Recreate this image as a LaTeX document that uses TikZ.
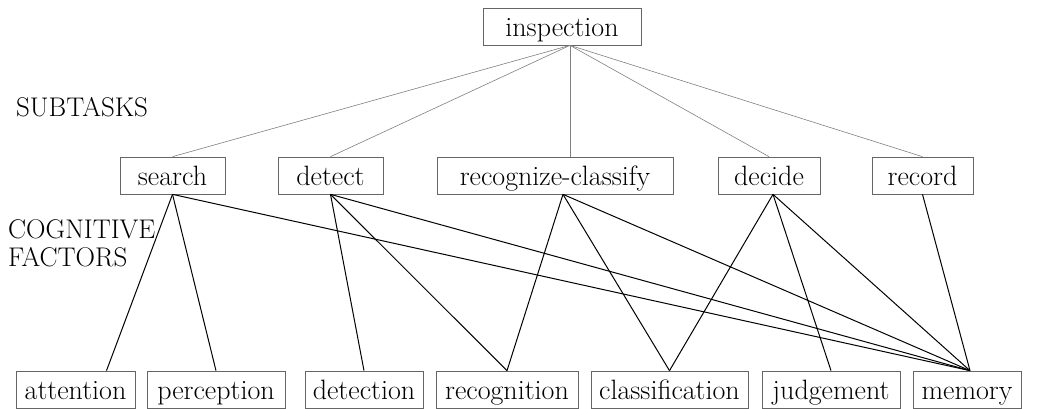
\documentclass[tikz,border=0pt]{standalone}
\begin{document}
\begin{tikzpicture}[x=1pt,y=-1pt,font=\fontsize{28}{28}\selectfont,
   box/.style={draw=black!60,line width=0.7pt,inner sep=0pt,
      text height=28.5pt,text depth=8.5pt},
   label/.style={inner sep=0pt,font=\fontsize{27}{28}\selectfont},
   upper/.style={black!50,line width=0.6pt},
   lower/.style={black,line width=1pt}]
   \useasboundingbox (0,0) rectangle (1041,409);
   \node[box,minimum width=158pt] (insp)   at ( 562.0, 26.5) {inspection};
   \node[box,minimum width=105pt] (search) at ( 172.5,175.5) {search};
   \node[box,minimum width=105pt] (detect) at ( 330.5,175.5) {detect};
   \node[box,minimum width=236pt] (reccl)  at ( 555.0,175.5) {recognize-classify};
   \node[box,minimum width=102pt] (decide) at ( 769.0,175.5) {decide};
   \node[box,minimum width=101pt] (record) at ( 922.5,175.5) {record};
   \node[box,minimum width=119pt] (att)    at (  75.5,389.5) {attention};
   \node[box,minimum width=138pt] (perc)   at ( 216.0,389.5) {perception};
   \node[box,minimum width=118pt] (detn)   at ( 364.0,389.5) {detection};
   \node[box,minimum width=142pt] (recn)   at ( 507.0,389.5) {recognition};
   \node[box,minimum width=157pt] (clas)   at ( 669.5,389.5) {classification};
   \node[box,minimum width=138pt] (judg)   at ( 831.0,389.5) {judgement};
   \node[box,minimum width=108pt] (mem)    at ( 967.0,389.5) {memory};
   \node[label,anchor=base west] (subt) at (16,117) {SUBTASKS};
   \node[label,anchor=north west,align=left] (cogn) at (8,219) {COGNITIVE\\FACTORS};
   \coordinate (top)  at ([xshift=8pt]insp.south);
   \coordinate (rcb)  at ([xshift=8pt]reccl.south);
   \coordinate (decb) at ([xshift=4pt]decide.south);
   \coordinate (attt) at ([xshift=31pt]att.north);
   \coordinate (memt) at ([xshift=3pt]mem.north);
   \draw[upper] (top) -- (search.north);
   \draw[upper] (top) -- (detect.north);
   \draw[upper] (top) -- (reccl.north -| top);
   \draw[upper] (top) -- (decide.north);
   \draw[upper] (top) -- (record.north);
   \draw[lower] (search.south) -- (attt);
   \draw[lower] (search.south) -- (perc.north);
   \draw[lower] (search.south) -- (memt);
   \draw[lower] (detect.south) -- (detn.north);
   \draw[lower] (detect.south) -- (recn.north);
   \draw[lower] (detect.south) -- (memt);
   \draw[lower] (rcb) -- (recn.north);
   \draw[lower] (rcb) -- (clas.north);
   \draw[lower] (rcb) -- (memt);
   \draw[lower] (decb) -- (clas.north);
   \draw[lower] (decb) -- (judg.north);
   \draw[lower] (decb) -- (memt);
   \draw[lower] (record.south) -- (memt);
\end{tikzpicture}
\end{document}
